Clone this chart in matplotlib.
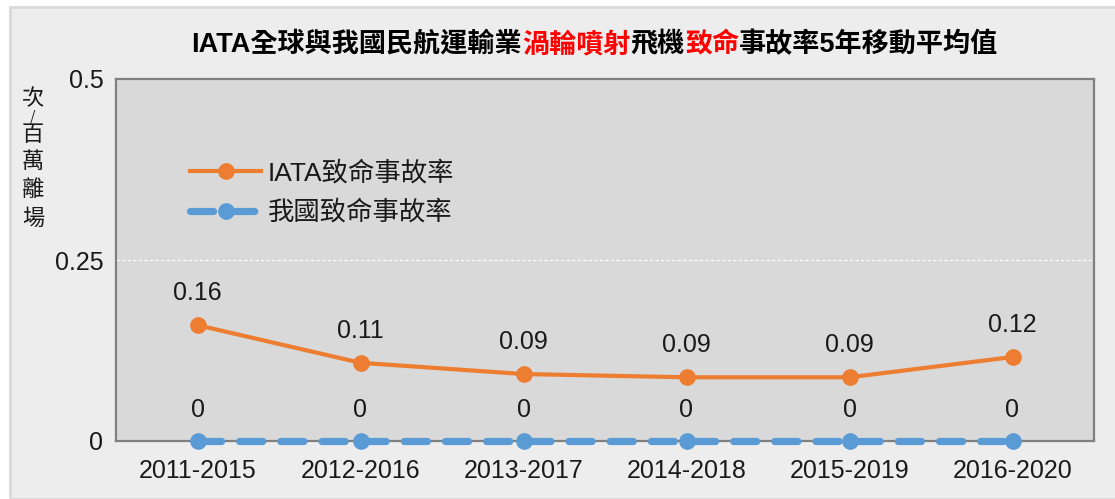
import matplotlib
matplotlib.use("Agg")
import matplotlib.pyplot as plt
from matplotlib.patches import Rectangle

# ---- data ----
periods = ["2011-2015", "2012-2016", "2013-2017", "2014-2018", "2015-2019", "2016-2020"]
iata_rate = [0.160, 0.108, 0.0925, 0.088, 0.088, 0.116]
tw_rate = [0, 0, 0, 0, 0, 0]
iata_labels = ["0.16", "0.11", "0.09", "0.09", "0.09", "0.12"]
tw_labels = ["0", "0", "0", "0", "0", "0"]
series_names = ["IATA致命事故率", "我國致命事故率"]
yticks = [0, 0.25, 0.5]
ytick_labels = ["0", "0.25", "0.5"]
title_parts = [("IATA全球與我國民航運輸業", "black"), ("渦輪噴射", "#FF0000"),
               ("飛機", "black"), ("致命", "#FF0000"), ("事故率5年移動平均值", "black")]
ylabel_chars = ["次", "/", "百", "萬", "離", "場"]

FAM = ["Liberation Sans", "Noto Sans CJK TC", "DejaVu Sans"]
plt.rcParams["font.family"] = FAM

W, H = 1115, 499
fig = plt.figure(figsize=(W / 100, H / 100), dpi=100)
fig.patch.set_facecolor("white")
# outer chart area
fig.patches.append(Rectangle((10 / W, 0), 1.2, 1 - 7 / H, transform=fig.transFigure,
                             facecolor="#EDEDED", edgecolor="#D9D9D9", linewidth=2, zorder=-10))

ax = fig.add_axes([116 / W, 1 - 441 / H, (1094 - 116) / W, (441 - 79) / H])
ax.set_facecolor("#D9D9D9")
for s in ax.spines.values():
    s.set_color("#808080")
    s.set_linewidth(1.6)

x = list(range(len(periods)))
orange = "#ED7D31"
blue = "#5B9BD5"

ax.plot(x, iata_rate, color=orange, linewidth=3, marker="o", markersize=11,
        label=series_names[0], zorder=4)
ax.plot(x, tw_rate, color=blue, linewidth=5.2, marker="o", markersize=11,
        linestyle=(0, (3.2, 2.5)), dash_capstyle="round", label=series_names[1],
        clip_on=False, zorder=5)

for xi, v, lab in zip(x, iata_rate, iata_labels):
    ax.annotate(lab, (xi, v), xytext=(0, 23), textcoords="offset points",
                ha="center", va="center", fontsize=18, color="#1a1a1a")
for xi, v, lab in zip(x, tw_rate, tw_labels):
    ax.annotate(lab, (xi, v), xytext=(0, 22), textcoords="offset points",
                ha="center", va="center", fontsize=18, color="#1a1a1a")

ax.set_xlim(-0.5, len(periods) - 0.5)
ax.set_ylim(0, 0.5)
ax.set_yticks(yticks)
ax.set_yticklabels(ytick_labels)
ax.set_xticks(x)
ax.set_xticklabels(periods)
ax.tick_params(axis="both", length=0, labelsize=18, labelcolor="#1a1a1a")
ax.tick_params(axis="y", pad=9)
ax.tick_params(axis="x", pad=13)
ax.axhline(0.25, color="white", linewidth=0.8, linestyle=(0, (3, 2)), zorder=1)

leg = ax.legend(loc="upper left", bbox_to_anchor=(0.0757, 0.775), frameon=False,
                fontsize=19, handlelength=2.7, handletextpad=0.25, labelspacing=0.55,
                borderpad=0, borderaxespad=0)
for t in leg.get_texts():
    t.set_color("#1a1a1a")

# y label stacked vertically
ylab_pos = [99, 117, 135, 161, 189, 218]
ylab_size = [16, 10, 16, 16, 16, 16]
for ch, yp, fs in zip(ylabel_chars, ylab_pos, ylab_size):
    fig.text(33 / W, 1 - yp / H, ch, ha="center", va="center", fontsize=fs,
             color="#1a1a1a", family=["Noto Sans CJK TC", "DejaVu Sans"])

# multi-coloured title
renderer = fig.canvas.get_renderer()
texts = []
for s, c in title_parts:
    t = fig.text(0, 1 - 45 / H, s, color=c, fontsize=19.5, fontweight="bold",
                 ha="left", va="center", family=FAM)
    texts.append(t)
widths = [t.get_window_extent(renderer).width for t in texts]
total = sum(widths)
start = 595 - total / 2
for t, w in zip(texts, widths):
    t.set_x(start / W)
    start += w

fig.savefig("out.png", dpi=100)
